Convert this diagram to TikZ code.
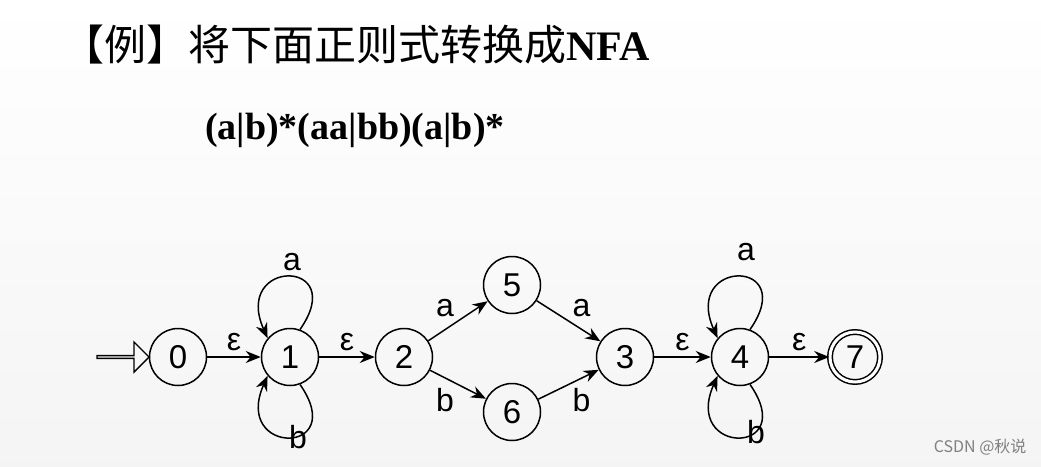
\documentclass[tikz,border=0pt]{standalone}
\usepackage{fontspec}
\setmainfont{Liberation Serif}
\newfontfamily\cjk{Noto Sans CJK SC}
\newfontfamily\arialf{Liberation Sans}
\usetikzlibrary{arrows.meta,shapes.arrows}
\begin{document}
\begin{tikzpicture}[x=1pt,y=-1pt,
  st/.style={circle,draw,line width=1.5pt,minimum size=57pt,inner sep=0pt,font=\arialf\fontsize{33}{33}\selectfont},
  acc/.style={st,double,double distance=3pt,minimum size=50pt},
  tr/.style={-{Stealth[length=15pt,width=12pt]},line width=1.5pt},
  lb/.style={font=\arialf\fontsize{32}{32}\selectfont}]
\shade[top color=white,bottom color=blue!4!gray!8] (0,0) rectangle (1041,466);
\useasboundingbox (0,0) rectangle (1041,466);
\node[anchor=west,inner sep=0pt] (title) at (62,45) {\cjk\fontsize{42}{42}\selectfont 【例】将下面正则式转换成\textrm{\bfseries NFA}};
\node[anchor=west,inner sep=0pt] (re) at (205,130) {\bfseries\fontsize{38}{38}\selectfont (a|b)*(aa|bb)(a|b)*};
\node[st] (s0) at (178,357) {0};
\node[st] (s1) at (290,357) {1};
\node[st] (s2) at (404,357) {2};
\node[st] (s5) at (512,285) {5};
\node[st] (s6) at (512,412) {6};
\node[st] (s3) at (625,357) {3};
\node[st] (s4) at (740,357) {4};
\node[acc] (s7) at (855,357) {7};
\node[single arrow,draw,line width=1.4pt,minimum height=52pt,single arrow head extend=7pt,minimum width=30pt,inner sep=0pt,anchor=tip] (in) at (150,357) {};
\draw[tr] (s0) -- node[lb,above=2pt]{ε} (s1);
\draw[tr] (s1) -- node[lb,above=2pt]{ε} (s2);
\draw[tr] (s2) -- node[lb,above left=0pt]{a} (s5);
\draw[tr] (s2) -- node[lb,below left=0pt]{b} (s6);
\draw[tr] (s5) -- node[lb,above right=0pt]{a} (s3);
\draw[tr] (s6) -- node[lb,below right=0pt]{b} (s3);
\draw[tr] (s3) -- node[lb,above=2pt]{ε} (s4);
\draw[tr] (s4) -- node[lb,above=2pt]{ε} (s7);
\draw[tr] (s1.70) .. controls (350,258) and (232,258) .. (s1.140);
\draw[tr] (s1.-70) .. controls (350,456) and (232,456) .. (s1.-140);
\draw[tr] (s4.70) .. controls (800,258) and (682,258) .. (s4.140);
\draw[tr] (s4.-70) .. controls (800,456) and (682,456) .. (s4.-140);
\node[lb] (la1) at (292,262) {a};
\node[lb] (lb1) at (298,437) {b};
\node[lb] (la4) at (746,252) {a};
\node[lb] (lb4) at (756,432) {b};
\node[anchor=east,text=gray,font=\cjk\fontsize{16}{16}\selectfont] (wm) at (1030,447) {CSDN @秋说};
\end{tikzpicture}
\end{document}
